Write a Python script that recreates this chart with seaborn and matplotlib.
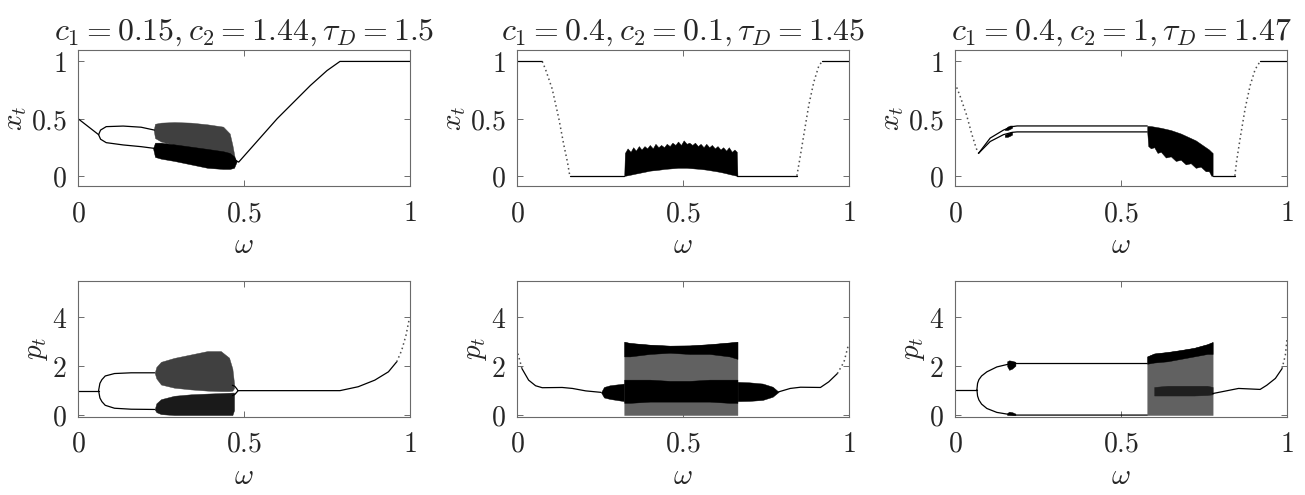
import matplotlib
matplotlib.use("Agg")
import matplotlib.pyplot as plt
import seaborn as sns

# ---- panel 1 (c1=0.15, c2=1.44, tau=1.5) : x_t ----
x1_pre_w = [0.0, 0.062]
x1_pre_y = [0.50, 0.36]
x1_br_w = [0.062, 0.068, 0.085, 0.136, 0.19, 0.23]
x1_up_y = [0.36, 0.40, 0.43, 0.435, 0.425, 0.40]
x1_lo_y = [0.36, 0.32, 0.29, 0.27, 0.255, 0.24]
x1_ca_w = [0.228, 0.232, 0.25, 0.29, 0.34, 0.39, 0.437, 0.457, 0.465, 0.472]
x1_ca_top = [0.40, 0.455, 0.465, 0.47, 0.465, 0.45, 0.43, 0.37, 0.27, 0.16]
x1_ca_bot = [0.40, 0.33, 0.30, 0.27, 0.24, 0.21, 0.17, 0.15, 0.14, 0.14]
x1_cb_w = [0.226, 0.232, 0.25, 0.29, 0.34, 0.39, 0.437, 0.457, 0.47, 0.478]
x1_cb_top = [0.24, 0.29, 0.29, 0.275, 0.255, 0.235, 0.215, 0.20, 0.17, 0.125]
x1_cb_bot = [0.24, 0.165, 0.15, 0.13, 0.10, 0.07, 0.06, 0.06, 0.07, 0.125]
x1_post_w = [0.472, 0.484, 0.60, 0.70, 0.75, 0.789, 1.0]
x1_post_y = [0.14, 0.12, 0.50, 0.79, 0.92, 1.0, 1.0]

# ---- panel 2 (c1=0.4, c2=0.1, tau=1.45) : x_t ----
x2_l_w = [0.0, 0.076]
x2_l_y = [1.0, 1.0]
x2_fall_w = [0.076, 0.086, 0.106, 0.126, 0.141, 0.152, 0.159]
x2_fall_y = [1.0, 0.93, 0.76, 0.50, 0.27, 0.12, 0.0]
x2_flat_w = [0.159, 0.323]
x2_flat_y = [0.0, 0.0]
x2_ch_w = [0.323, 0.325, 0.333, 0.342, 0.350, 0.358, 0.367, 0.375, 0.384, 0.392,
           0.400, 0.409, 0.417, 0.426, 0.434, 0.443, 0.451, 0.460, 0.468, 0.477,
           0.485, 0.494, 0.502, 0.511, 0.519, 0.528, 0.536, 0.545, 0.553, 0.562,
           0.570, 0.579, 0.587, 0.596, 0.604, 0.613, 0.621, 0.630, 0.638, 0.647,
           0.655, 0.662, 0.664]
x2_ch_top = [0.0, 0.20, 0.24, 0.21, 0.25, 0.22, 0.26, 0.23, 0.26, 0.24,
             0.27, 0.24, 0.28, 0.25, 0.27, 0.25, 0.28, 0.26, 0.29, 0.27,
             0.30, 0.27, 0.31, 0.28, 0.29, 0.27, 0.29, 0.26, 0.28, 0.25,
             0.28, 0.25, 0.27, 0.24, 0.26, 0.23, 0.25, 0.22, 0.25, 0.21,
             0.23, 0.21, 0.0]
x2_ch_bot = [0.0, 0.0, 0.005, 0.01, 0.015, 0.02, 0.025, 0.03, 0.035, 0.04,
             0.045, 0.048, 0.05, 0.053, 0.056, 0.06, 0.062, 0.064, 0.066, 0.068,
             0.07, 0.07, 0.07, 0.07, 0.068, 0.066, 0.064, 0.062, 0.06, 0.057,
             0.054, 0.05, 0.046, 0.042, 0.038, 0.033, 0.028, 0.022, 0.016, 0.01,
             0.005, 0.0, 0.0]
x2_flat2_w = [0.664, 0.843]
x2_flat2_y = [0.0, 0.0]
x2_rise_w = [0.843, 0.852, 0.864, 0.879, 0.894, 0.909, 0.919]
x2_rise_y = [0.0, 0.15, 0.36, 0.62, 0.82, 0.96, 1.0]
x2_r_w = [0.919, 1.0]
x2_r_y = [1.0, 1.0]

# ---- panel 3 (c1=0.4, c2=1, tau=1.47) : x_t ----
x3_fall_w = [0.0, 0.015, 0.035, 0.05, 0.064, 0.071]
x3_fall_y = [0.81, 0.70, 0.53, 0.37, 0.24, 0.197]
x3_br_w = [0.071, 0.106, 0.146, 0.172, 0.187, 0.579]
x3_up_y = [0.197, 0.33, 0.40, 0.43, 0.436, 0.436]
x3_lo_y = [0.197, 0.30, 0.36, 0.38, 0.384, 0.384]
x3_blob_w = [0.150, 0.158, 0.166, 0.172]
x3_blob1_top = [0.41, 0.43, 0.44, 0.44]
x3_blob1_bot = [0.40, 0.40, 0.41, 0.42]
x3_blob2_top = [0.36, 0.37, 0.38, 0.385]
x3_blob2_bot = [0.34, 0.34, 0.35, 0.36]
x3_ch_w = [0.579, 0.582, 0.59, 0.60, 0.61, 0.62, 0.635, 0.65, 0.665, 0.68, 0.695,
           0.71, 0.725, 0.74, 0.755, 0.765, 0.772, 0.776]
x3_ch_top = [0.436, 0.436, 0.435, 0.43, 0.425, 0.42, 0.41, 0.40, 0.385, 0.37, 0.35,
             0.33, 0.31, 0.28, 0.25, 0.23, 0.21, 0.20]
x3_ch_bot = [0.384, 0.26, 0.24, 0.25, 0.20, 0.21, 0.16, 0.17, 0.13, 0.14, 0.10,
             0.11, 0.07, 0.08, 0.04, 0.04, 0.0, 0.0]
x3_flat_w = [0.776, 0.843]
x3_flat_y = [0.0, 0.0]
x3_rise_w = [0.843, 0.848, 0.859, 0.874, 0.889, 0.904, 0.919]
x3_rise_y = [0.0, 0.124, 0.33, 0.59, 0.79, 0.93, 1.0]
x3_r_w = [0.919, 1.0]
x3_r_y = [1.0, 1.0]

# ---- panel 4 : p_t ----
p1_pre_w = [0.0, 0.062]
p1_pre_y = [1.0, 1.0]
p1_br_w = [0.062, 0.066, 0.072, 0.082, 0.11, 0.16, 0.231]
p1_up_y = [1.0, 1.30, 1.45, 1.60, 1.70, 1.73, 1.73]
p1_lo_y = [1.0, 0.70, 0.55, 0.40, 0.28, 0.24, 0.23]
p1_ca_w = [0.231, 0.236, 0.25, 0.29, 0.34, 0.39, 0.43, 0.455, 0.465, 0.47]
p1_ca_top = [1.73, 1.97, 2.18, 2.34, 2.48, 2.62, 2.62, 2.35, 1.9, 1.3]
p1_ca_bot = [1.73, 1.5, 1.25, 1.12, 1.05, 1.0, 0.98, 0.98, 1.0, 1.1]
p1_cb_w = [0.231, 0.236, 0.25, 0.29, 0.34, 0.39, 0.43, 0.465, 0.47]
p1_cb_top = [0.23, 0.48, 0.65, 0.79, 0.85, 0.88, 0.90, 0.92, 0.92]
p1_cb_bot = [0.23, 0.12, 0.04, 0.0, 0.0, 0.0, 0.0, 0.0, 0.2]
p1_loop_w = [0.465, 0.472, 0.478, 0.482]
p1_loop_up = [1.22, 1.18, 1.08, 1.0]
p1_loop_lo = [0.80, 0.84, 0.93, 1.0]
p1_post_w = [0.482, 0.789, 0.844, 0.894, 0.935, 0.96]
p1_post_y = [1.0, 1.0, 1.16, 1.43, 1.77, 2.18]
p1_tail_w = [0.96, 0.975, 0.988, 0.998]
p1_tail_y = [2.18, 2.65, 3.27, 3.95]

# ---- panel 5 : p_t ----
p2_tip_w = [0.0, 0.003, 0.015]
p2_tip_y = [2.7, 2.5, 1.9]
p2_l_w = [0.015, 0.035, 0.056, 0.076, 0.136, 0.167, 0.207, 0.253]
p2_l_y = [1.9, 1.43, 1.2, 1.12, 1.13, 1.09, 0.99, 0.93]
p2_blob_w = [0.253, 0.262, 0.28, 0.323, 0.664, 0.70, 0.74, 0.77, 0.788]
p2_blob_top = [0.93, 1.15, 1.22, 1.29, 1.36, 1.34, 1.29, 1.16, 0.95]
p2_blob_bot = [0.93, 0.72, 0.66, 0.57, 0.57, 0.58, 0.62, 0.75, 0.95]
p2_ch_w = [0.323, 0.34, 0.40, 0.46, 0.52, 0.58, 0.64, 0.664]
p2_ch_top = [3.0, 2.95, 2.88, 2.84, 2.85, 2.9, 2.97, 3.0]
p2_band_bot = [2.4, 2.4, 2.5, 2.55, 2.5, 2.5, 2.4, 2.3]
p2_dense_top = [1.45, 1.45, 1.45, 1.4, 1.4, 1.45, 1.45, 1.45]
p2_dense_bot = [0.5, 0.5, 0.55, 0.55, 0.55, 0.55, 0.5, 0.5]
p2_r_w = [0.788, 0.823, 0.854, 0.914, 0.939, 0.965]
p2_r_y = [0.95, 1.09, 1.14, 1.13, 1.36, 1.7]
p2_tail_w = [0.965, 0.985, 0.998]
p2_tail_y = [1.7, 2.18, 2.86]

# ---- panel 6 : p_t ----
p3_pre_w = [0.0, 0.066]
p3_pre_y = [1.04, 1.04]
p3_br_w = [0.066, 0.068, 0.072, 0.08, 0.096, 0.126, 0.157, 0.177, 0.579]
p3_up_y = [1.04, 1.30, 1.45, 1.60, 1.77, 1.97, 2.07, 2.11, 2.11]
p3_lo_y = [1.04, 0.78, 0.62, 0.45, 0.27, 0.11, 0.04, 0.0, 0.0]
p3_blob_w = [0.157, 0.163, 0.172, 0.182]
p3_blob1_top = [2.20, 2.24, 2.22, 2.18]
p3_blob1_bot = [2.00, 1.85, 1.90, 2.02]
p3_blob2_top = [0.08, 0.14, 0.12, 0.06]
p3_blob2_bot = [0.0, 0.0, 0.0, 0.0]
p3_ch_w = [0.579, 0.60, 0.64, 0.68, 0.72, 0.76, 0.776]
p3_ch_top = [2.40, 2.52, 2.58, 2.66, 2.75, 2.9, 2.99]
p3_band_bot = [2.1, 2.15, 2.2, 2.3, 2.4, 2.5, 2.5]
p3_dense_w = [0.60, 0.64, 0.68, 0.72, 0.76, 0.776]
p3_dense_top = [1.15, 1.2, 1.2, 1.2, 1.2, 1.15]
p3_dense_bot = [0.8, 0.8, 0.8, 0.8, 0.82, 0.85]
p3_r_w = [0.776, 0.854, 0.919, 0.939, 0.965, 0.985]
p3_r_y = [0.88, 1.09, 1.05, 1.22, 1.5, 1.9]
p3_tail_w = [0.985, 0.995, 1.0]
p3_tail_y = [1.9, 2.45, 3.1]

titles = [r"$c_1 = 0.15, c_2 = 1.44, \tau_D = 1.5$",
          r"$c_1 = 0.4, c_2 = 0.1, \tau_D = 1.45$",
          r"$c_1 = 0.4, c_2 = 1, \tau_D = 1.47$"]

sns.set_style("ticks")
plt.rcParams["mathtext.fontset"] = "cm"
plt.rcParams["font.family"] = ["DejaVu Serif"]

SPECK = "0.25"
SPARSE = "0.38"


def curve(ax, w, y, dotted=False):
    if dotted:
        sns.lineplot(x=w, y=y, ax=ax, color="0.3", lw=1.1, linestyle=(0, (1, 2)),
                     sort=False, estimator=None)
    else:
        sns.lineplot(x=w, y=y, ax=ax, color="black", lw=0.9, sort=False, estimator=None)


def band(ax, w, lo, hi, shade="black"):
    ax.fill_between(w, lo, hi, color=shade, lw=0.3, edgecolor=shade)


fig = plt.figure(figsize=(13.05, 4.95), dpi=100)
lefts = [78 / 1305, 517 / 1305, 955 / 1305]
width = 332 / 1305
top_row = [fig.add_axes([l, 0.624, width, 0.275]) for l in lefts]
bot_row = [fig.add_axes([l, 0.158, width, 0.275]) for l in lefts]

# top row
ax = top_row[0]
curve(ax, x1_pre_w, x1_pre_y)
curve(ax, x1_br_w, x1_up_y)
curve(ax, x1_br_w, x1_lo_y)
band(ax, x1_ca_w, x1_ca_bot, x1_ca_top, SPECK)
band(ax, x1_cb_w, x1_cb_bot, x1_cb_top)
curve(ax, x1_post_w, x1_post_y)

ax = top_row[1]
curve(ax, x2_l_w, x2_l_y)
curve(ax, x2_fall_w, x2_fall_y, dotted=True)
curve(ax, x2_flat_w, x2_flat_y)
band(ax, x2_ch_w, x2_ch_bot, x2_ch_top)
curve(ax, x2_flat2_w, x2_flat2_y)
curve(ax, x2_rise_w, x2_rise_y, dotted=True)
curve(ax, x2_r_w, x2_r_y)

ax = top_row[2]
curve(ax, x3_fall_w, x3_fall_y, dotted=True)
curve(ax, x3_br_w, x3_up_y)
curve(ax, x3_br_w, x3_lo_y)
band(ax, x3_blob_w, x3_blob1_bot, x3_blob1_top)
band(ax, x3_blob_w, x3_blob2_bot, x3_blob2_top)
band(ax, x3_ch_w, x3_ch_bot, x3_ch_top)
curve(ax, x3_flat_w, x3_flat_y)
curve(ax, x3_rise_w, x3_rise_y, dotted=True)
curve(ax, x3_r_w, x3_r_y)

# bottom row
ax = bot_row[0]
curve(ax, p1_pre_w, p1_pre_y)
curve(ax, p1_br_w, p1_up_y)
curve(ax, p1_br_w, p1_lo_y)
band(ax, p1_ca_w, p1_ca_bot, p1_ca_top, SPECK)
band(ax, p1_cb_w, p1_cb_bot, p1_cb_top, "0.1")
curve(ax, p1_loop_w, p1_loop_up)
curve(ax, p1_loop_w, p1_loop_lo)
curve(ax, p1_post_w, p1_post_y)
curve(ax, p1_tail_w, p1_tail_y, dotted=True)

ax = bot_row[1]
curve(ax, p2_tip_w, p2_tip_y, dotted=True)
curve(ax, p2_l_w, p2_l_y)
band(ax, p2_blob_w, p2_blob_bot, p2_blob_top)
band(ax, p2_ch_w, [0] * len(p2_ch_w), p2_ch_top, SPARSE)
band(ax, p2_ch_w, p2_band_bot, p2_ch_top)
band(ax, p2_ch_w, p2_dense_bot, p2_dense_top)
curve(ax, p2_r_w, p2_r_y)
curve(ax, p2_tail_w, p2_tail_y, dotted=True)

ax = bot_row[2]
curve(ax, p3_pre_w, p3_pre_y)
curve(ax, p3_br_w, p3_up_y)
curve(ax, p3_br_w, p3_lo_y)
band(ax, p3_blob_w, p3_blob1_bot, p3_blob1_top)
band(ax, p3_blob_w, p3_blob2_bot, p3_blob2_top)
band(ax, p3_ch_w, [0] * len(p3_ch_w), p3_ch_top, SPARSE)
band(ax, p3_ch_w, p3_band_bot, p3_ch_top)
band(ax, p3_dense_w, p3_dense_bot, p3_dense_top, "0.12")
curve(ax, p3_r_w, p3_r_y)
curve(ax, p3_tail_w, p3_tail_y, dotted=True)

for i, ax in enumerate(top_row + bot_row):
    ax.set_xlim(0, 1)
    ax.set_xticks([0, 0.5, 1])
    ax.set_xticklabels(["$0$", "$0.5$", "$1$"])
    if i < 3:
        ax.set_ylim(-0.09, 1.1)
        ax.set_yticks([0, 0.5, 1])
        ax.set_yticklabels(["$0$", "$0.5$", "$1$"])
        ax.set_ylabel("$x_t$", fontsize=21, labelpad=1)
        ax.set_title(titles[i], fontsize=23, pad=7)
    else:
        ax.set_ylim(-0.07, 5.5)
        ax.set_yticks([0, 2, 4])
        ax.set_yticklabels(["$0$", "$2$", "$4$"])
        ax.set_ylabel("$p_t$", fontsize=21, labelpad=1)
    ax.set_xlabel(r"$\omega$", fontsize=21, labelpad=3)
    ax.tick_params(direction="in", top=True, right=True, length=4, width=0.6,
                   colors="#555555", labelcolor="#262626", labelsize=20)
    ax.tick_params(axis="x", pad=10)
    ax.tick_params(axis="y", pad=8)
    for s in ax.spines.values():
        s.set_color("#6a6a6a")
        s.set_linewidth(0.8)

fig.savefig("out.png", dpi=100)
